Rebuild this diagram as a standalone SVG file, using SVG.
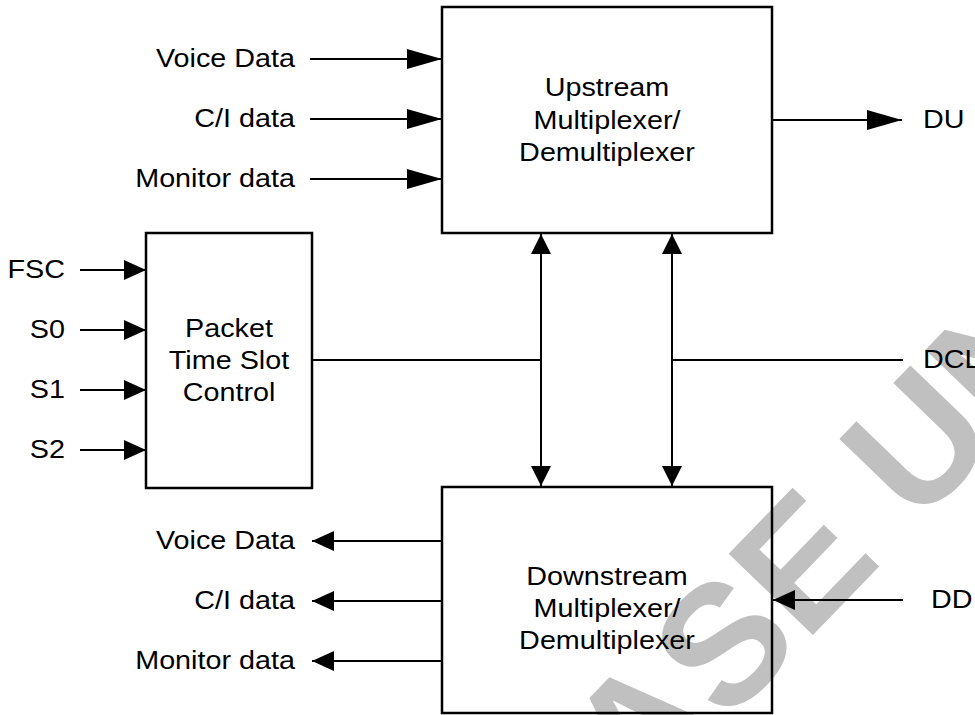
<svg xmlns="http://www.w3.org/2000/svg" width="975" height="715" viewBox="0 0 975 715">
<defs>
<style>
text{font-family:"Liberation Sans",Arial,sans-serif;font-size:25px;fill:#000}
.box{fill:none;stroke:#000;stroke-width:2.5}
.ln{fill:none;stroke:#000;stroke-width:2}
.wm{font-family:"Liberation Sans",Arial,sans-serif;font-weight:bold;font-size:170px;fill:#c0c0c0}
</style>
<marker id="big" markerUnits="userSpaceOnUse" markerWidth="35" markerHeight="20" refX="35" refY="10" orient="auto-start-reverse"><path d="M0,0 L35,10 L0,20 z" fill="#000"/></marker>
<marker id="sm" markerUnits="userSpaceOnUse" markerWidth="22" markerHeight="20" refX="22" refY="10" orient="auto-start-reverse"><path d="M0,0 L22,10 L0,20 z" fill="#000"/></marker>
<marker id="vt" markerUnits="userSpaceOnUse" markerWidth="20" markerHeight="20" refX="20" refY="10" orient="auto-start-reverse"><path d="M0,0 L20,10 L0,20 z" fill="#000"/></marker>
</defs>
<rect width="975" height="715" fill="#fff"/>
<g id="watermark"><text class="wm" text-anchor="middle" transform="translate(864,582) rotate(-46)">ASE UN</text></g>
<g id="connectors">
<line class="ln" x1="310" y1="59" x2="442" y2="59" marker-end="url(#big)"/>
<line class="ln" x1="310" y1="119" x2="442" y2="119" marker-end="url(#big)"/>
<line class="ln" x1="310" y1="179" x2="442" y2="179" marker-end="url(#big)"/>
<line class="ln" x1="772" y1="120" x2="902" y2="120" marker-end="url(#big)"/>
<line class="ln" x1="80" y1="270" x2="146" y2="270" marker-end="url(#sm)"/>
<line class="ln" x1="80" y1="330" x2="146" y2="330" marker-end="url(#sm)"/>
<line class="ln" x1="80" y1="390" x2="146" y2="390" marker-end="url(#sm)"/>
<line class="ln" x1="80" y1="450" x2="146" y2="450" marker-end="url(#sm)"/>
<line class="ln" x1="442" y1="541" x2="312" y2="541" marker-end="url(#sm)"/>
<line class="ln" x1="442" y1="601" x2="312" y2="601" marker-end="url(#sm)"/>
<line class="ln" x1="442" y1="661" x2="312" y2="661" marker-end="url(#sm)"/>
<line class="ln" x1="903" y1="600" x2="773" y2="600" marker-end="url(#sm)"/>
<line class="ln" x1="541" y1="234" x2="541" y2="486" marker-start="url(#vt)" marker-end="url(#vt)"/>
<line class="ln" x1="672" y1="234" x2="672" y2="486" marker-start="url(#vt)" marker-end="url(#vt)"/>
<line class="ln" x1="312" y1="360" x2="541" y2="360"/>
<line class="ln" x1="672" y1="360" x2="903" y2="360"/>
</g>
<g id="upstream">
<rect class="box" x="442" y="7" width="330" height="226"/>
<text text-anchor="middle" transform="translate(607,96) scale(1.15,1)">Upstream</text>
<text text-anchor="middle" transform="translate(607,128.5) scale(1.15,1)">Multiplexer/</text>
<text text-anchor="middle" transform="translate(607,161) scale(1.15,1)">Demultiplexer</text>
</g>
<g id="packet">
<rect class="box" x="146" y="233" width="166" height="255"/>
<text text-anchor="middle" transform="translate(229,336.5) scale(1.15,1)">Packet</text>
<text text-anchor="middle" transform="translate(229,368.5) scale(1.15,1)">Time Slot</text>
<text text-anchor="middle" transform="translate(229,400.5) scale(1.15,1)">Control</text>
</g>
<g id="downstream">
<rect class="box" x="442" y="487" width="330" height="226"/>
<text text-anchor="middle" transform="translate(607,585) scale(1.15,1)">Downstream</text>
<text text-anchor="middle" transform="translate(607,617) scale(1.15,1)">Multiplexer/</text>
<text text-anchor="middle" transform="translate(607,649) scale(1.15,1)">Demultiplexer</text>
</g>
<g id="labels">
<text text-anchor="end" transform="translate(295,67) scale(1.15,1)">Voice Data</text>
<text text-anchor="end" transform="translate(295,127) scale(1.15,1)">C/I data</text>
<text text-anchor="end" transform="translate(295,187) scale(1.15,1)">Monitor data</text>
<text transform="translate(923,128) scale(1.15,1)">DU</text>
<text text-anchor="end" transform="translate(65,278) scale(1.15,1)">FSC</text>
<text text-anchor="end" transform="translate(65,338) scale(1.15,1)">S0</text>
<text text-anchor="end" transform="translate(65,398) scale(1.15,1)">S1</text>
<text text-anchor="end" transform="translate(65,458) scale(1.15,1)">S2</text>
<text transform="translate(923,368) scale(1.15,1)">DCL</text>
<text transform="translate(931,608) scale(1.15,1)">DD</text>
<text text-anchor="end" transform="translate(295,549) scale(1.15,1)">Voice Data</text>
<text text-anchor="end" transform="translate(295,609) scale(1.15,1)">C/I data</text>
<text text-anchor="end" transform="translate(295,669) scale(1.15,1)">Monitor data</text>
</g>
</svg>
